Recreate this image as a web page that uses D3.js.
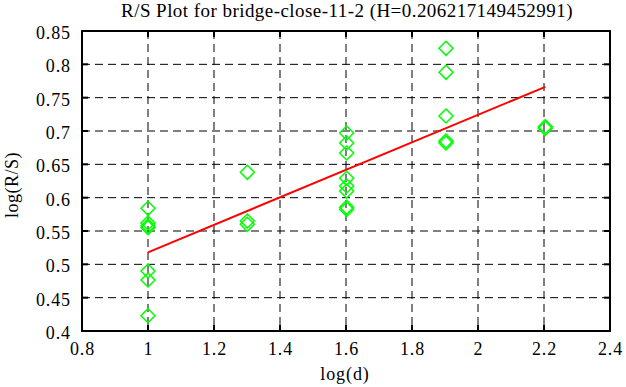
<!DOCTYPE html>
<html><head><meta charset="utf-8">
<script src="https://cdn.jsdelivr.net/npm/d3@7"></script>
<style>body{margin:0;background:#fff}</style>
</head><body><svg id="c" width="626" height="387"></svg>
<script>
const title = "R/S Plot for bridge-close-11-2 (H=0.206217149452991)";
const xTicks = [0.8,1,1.2,1.4,1.6,1.8,2,2.2,2.4];
const yTicks = [0.4,0.45,0.5,0.55,0.6,0.65,0.7,0.75,0.8,0.85];
const pointsX = [1,1,1,1,1,1,1, 1.301,1.301,1.301, 1.602,1.602,1.602,1.602,1.602,1.602,1.602,1.602, 1.903,1.903,1.903,1.903,1.903, 2.204,2.204];
const pointsY = [0.584,0.562,0.5575,0.555,0.490,0.4765,0.423, 0.638,0.565,0.560, 0.697,0.682,0.667,0.629,0.6175,0.610,0.5855,0.5825, 0.824,0.788,0.7225,0.685,0.682,0.7065,0.704];
const H = 0.206217149452991;
const intercept = 0.3118;
const fitX = [1, 2.204];

const svg = d3.select("#c");
const m = {l:82, r:610, t:31, b:331};
const x = d3.scaleLinear().domain([0.8,2.4]).range([m.l,m.r]);
const y = d3.scaleLinear().domain([0.4,0.85]).range([m.b,m.t]);
const font = "'Liberation Serif','Times New Roman',serif";
const fs = 18;

// grid
const g = svg.append("g");
g.selectAll(".vg").data(xTicks.slice(1,-1)).join("line")
  .attr("x1",d=>x(d)).attr("x2",d=>x(d)).attr("y1",m.t).attr("y2",m.b)
  .attr("stroke","#000").attr("stroke-width",1).attr("stroke-dasharray","8,5");
g.selectAll(".hg").data(yTicks.slice(1,-1)).join("line")
  .attr("y1",d=>y(d)).attr("y2",d=>y(d)).attr("x1",m.l).attr("x2",m.r)
  .attr("stroke","#000").attr("stroke-width",1).attr("stroke-dasharray","8,5");

// axes
const xa = svg.append("g").attr("transform",`translate(0,${m.b})`)
  .call(d3.axisBottom(x).tickValues(xTicks).tickFormat(d3.format("")).tickSize(0).tickPadding(11));
const ya = svg.append("g").attr("transform",`translate(${m.l},0)`)
  .call(d3.axisLeft(y).tickValues(yTicks).tickFormat(d3.format("")).tickSize(0).tickPadding(11));
[xa,ya].forEach(a=>{a.select(".domain").remove();a.selectAll("text").attr("font-family",font).attr("font-size",fs).attr("letter-spacing","0.9px").attr("fill","#000");});
xa.selectAll("text").attr("dy","0.71em");
ya.selectAll("text").attr("dy","0.42em");

// inner ticks
const tk = svg.append("g").attr("stroke","#000").attr("stroke-width",2);
xTicks.forEach(v=>{
  tk.append("line").attr("x1",x(v)).attr("x2",x(v)).attr("y1",m.b).attr("y2",m.b-6);
  tk.append("line").attr("x1",x(v)).attr("x2",x(v)).attr("y1",m.t).attr("y2",m.t+6);
});
yTicks.forEach(v=>{
  tk.append("line").attr("y1",y(v)).attr("y2",y(v)).attr("x1",m.l).attr("x2",m.l+6);
  tk.append("line").attr("y1",y(v)).attr("y2",y(v)).attr("x1",m.r).attr("x2",m.r-6);
});

// fit line
svg.append("line")
  .attr("x1",x(fitX[0])).attr("y1",y(intercept+H*fitX[0]))
  .attr("x2",x(fitX[1])).attr("y2",y(intercept+H*fitX[1]))
  .attr("stroke","#ff0000").attr("stroke-width",2);

// points
const pts = pointsX.map((v,i)=>[v,pointsY[i]]);
svg.append("g").selectAll("path").data(pts).join("path")
  .attr("d",d=>{const cx=x(d[0]),cy=y(d[1]),s=7;return `M${cx},${cy-s}L${cx+s},${cy}L${cx},${cy+s}L${cx-s},${cy}Z`;})
  .attr("fill","none").attr("stroke","#00ff00").attr("stroke-width",1.5);

// border
svg.append("rect").attr("x",m.l).attr("y",m.t).attr("width",m.r-m.l).attr("height",m.b-m.t)
  .attr("fill","none").attr("stroke","#000").attr("stroke-width",2);

// labels
svg.append("text").attr("x",347).attr("y",17).attr("text-anchor","middle")
  .attr("font-family",font).attr("font-size",19).attr("letter-spacing","0.45px").text(title);
svg.append("text").attr("x",345).attr("y",380).attr("text-anchor","middle")
  .attr("font-family",font).attr("font-size",fs).attr("letter-spacing","0.9px").text("log(d)");
svg.append("text").attr("transform",`translate(18,${185}) rotate(-90)`).attr("text-anchor","middle")
  .attr("font-family",font).attr("font-size",fs).attr("letter-spacing","0.5px").text("log(R/S)");
</script></body></html>
